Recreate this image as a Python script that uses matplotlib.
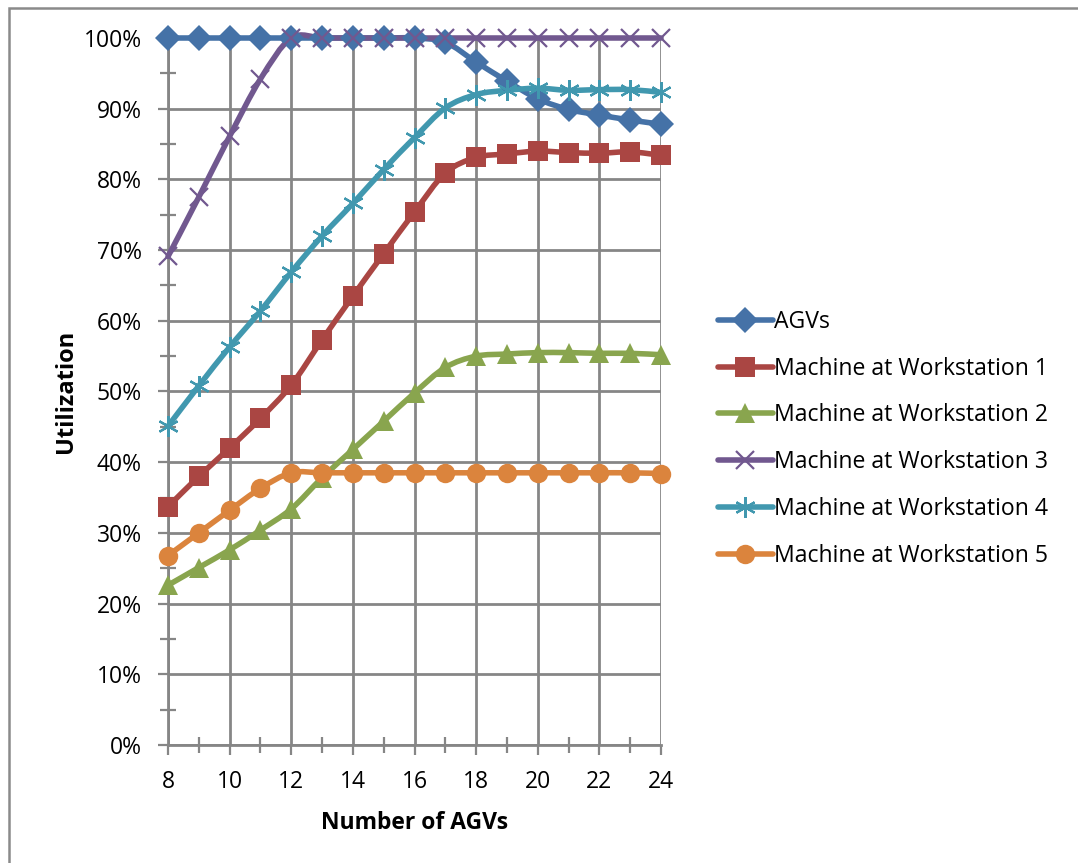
import numpy as np
import matplotlib
matplotlib.use("Agg")
import matplotlib.pyplot as plt
from matplotlib.path import Path
from matplotlib.patches import PathPatch, Rectangle
from matplotlib.lines import Line2D
from matplotlib.ticker import MultipleLocator, PercentFormatter

plt.rcParams['font.family'] = ['Open Sans', 'DejaVu Sans']

# Utilization (%) against fleet size
n_agvs = list(range(8, 25))

agvs = [100, 100, 100, 100, 100, 100, 100, 100, 100,
        99.4, 96.6, 93.9, 91.4, 89.9, 89.1, 88.4, 87.8]
ws1 = [33.7, 38.0, 42.0, 46.2, 50.9, 57.3, 63.5, 69.5, 75.4,
       80.9, 83.1, 83.6, 84.0, 83.8, 83.7, 83.9, 83.4]
ws2 = [22.6, 25.1, 27.6, 30.4, 33.4, 37.8, 41.8, 45.8, 49.8,
       53.4, 55.0, 55.3, 55.5, 55.5, 55.4, 55.4, 55.2]
ws3 = [69.1, 77.5, 86.1, 94.2, 100, 100, 100, 100, 100,
       100, 100, 100, 100, 100, 100, 100, 100]
ws4 = [45.1, 50.8, 56.3, 61.4, 66.9, 72.0, 76.6, 81.4, 85.9,
       90.1, 92.0, 92.6, 92.9, 92.6, 92.7, 92.7, 92.3]
ws5 = [26.8, 30.0, 33.2, 36.3, 38.5, 38.5, 38.5, 38.5, 38.5,
       38.5, 38.5, 38.5, 38.5, 38.5, 38.5, 38.5, 38.4]

series = [
    ("AGVs", agvs, '#4572A7', 'D', 13),
    ("Machine at Workstation 1", ws1, '#AA4643', 's', 14),
    ("Machine at Workstation 2", ws2, '#89A54E', '^', 14),
    ("Machine at Workstation 3", ws3, '#71588F', 'x', 13),
    ("Machine at Workstation 4", ws4, '#4198AF', (6, 2, 0), 15),
    ("Machine at Workstation 5", ws5, '#DB843D', 'o', 14),
]


def smooth_path(x, y):
    # Catmull-Rom style bezier through every point (like spreadsheet smoothing)
    pts = np.column_stack([x, y]).astype(float)
    n = len(pts)
    verts = [pts[0]]
    codes = [Path.MOVETO]
    for i in range(n - 1):
        p0 = pts[max(i - 1, 0)]
        p1 = pts[i]
        p2 = pts[i + 1]
        p3 = pts[min(i + 2, n - 1)]
        c1 = p1 + (p2 - p0) / 6.0
        c2 = p2 - (p3 - p1) / 6.0
        verts += [c1, c2, p2]
        codes += [Path.CURVE4] * 3
    return Path(verts, codes)


fig = plt.figure(figsize=(10.78, 8.63), dpi=100)
ax = fig.add_axes([168 / 1078, 118 / 863, 493 / 1078, 707 / 863])

grid_c = '#868686'

handles = []
for name, vals, color, marker, ms in series:
    patch = PathPatch(smooth_path(n_agvs, vals), facecolor='none',
                      edgecolor=color, lw=4, zorder=3, clip_on=False,
                      capstyle='round', joinstyle='round')
    ax.add_patch(patch)
    thin = marker in ('x', (6, 2, 0))
    ax.plot(n_agvs, vals, ls='none', marker=marker, ms=ms,
            mew=1.6 if thin else 0, color=color, zorder=4, clip_on=False)
    handles.append(Line2D([], [], color=color, lw=4, marker=marker, ms=ms,
                          mew=1.6 if thin else 0, solid_capstyle='round'))

ax.set_xlim(8, 24)
ax.set_ylim(0, 100)

ax.xaxis.set_major_locator(MultipleLocator(2))
ax.xaxis.set_minor_locator(MultipleLocator(1))
ax.yaxis.set_major_locator(MultipleLocator(10))
ax.yaxis.set_minor_locator(MultipleLocator(5))
ax.yaxis.set_major_formatter(PercentFormatter(decimals=0))

ax.grid(True, which='major', color=grid_c, lw=2, zorder=0)
ax.set_axisbelow(True)
for side in ('top', 'right'):
    ax.spines[side].set_visible(False)
for side in ('left', 'bottom'):
    ax.spines[side].set_color(grid_c)
    ax.spines[side].set_linewidth(2)

ax.tick_params(which='major', direction='out', length=7, width=1.6,
               color=grid_c, labelsize=16.5)
ax.tick_params(which='minor', direction='inout', length=12, width=1.6,
               color=grid_c)
ax.tick_params(axis='x', which='major', pad=11)
ax.tick_params(axis='y', which='major', pad=12)

ax.set_xlabel('Number of AGVs', fontsize=16.5, fontweight='bold', labelpad=12)
ax.set_ylabel('Utilization', fontsize=17, fontweight='bold', labelpad=4)

fig.legend(handles, [s[0] for s in series], loc='upper left',
           bbox_to_anchor=(697 / 1078, 1 - 289 / 863), frameon=False,
           fontsize=16.6, handlelength=2.4, handletextpad=0.05,
           labelspacing=0.99)

# chart frame
fig.patches.append(Rectangle((9 / 1078, -0.1), 1.2, 1 - 8 / 863 + 0.1,
                             transform=fig.transFigure, fill=False,
                             edgecolor='#8a8a8a', lw=1.8))

fig.savefig('out.png', dpi=100)
